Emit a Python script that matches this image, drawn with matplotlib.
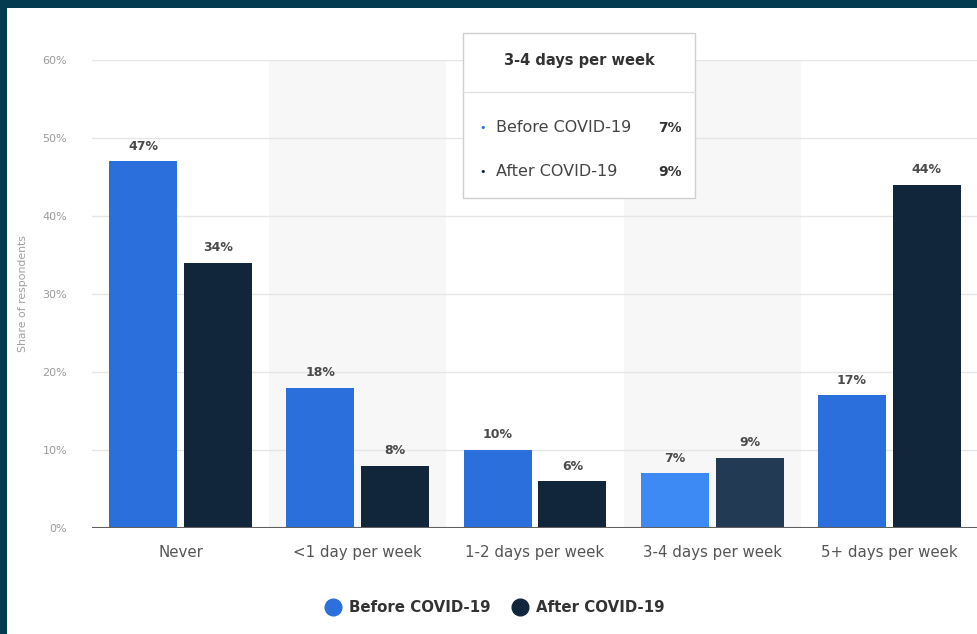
import numpy as np
import matplotlib.pyplot as plt
from matplotlib.patches import Rectangle

plt.rcParams['font.family'] = ['DejaVu Sans']

# data
categories = ['Never', '<1 day per week', '1-2 days per week', '3-4 days per week', '5+ days per week']
before = [47, 18, 10, 7, 17]
after = [34, 8, 6, 9, 44]
series_names = ['Before COVID-19', 'After COVID-19']
yticks = [0, 10, 20, 30, 40, 50, 60]
hover_idx = 3

c_before = '#2a6fdb'
c_after = '#11253b'
c_before_hl = '#3d8af5'
c_after_hl = '#233a55'

fig = plt.figure(figsize=(9.78, 6.34), dpi=100)
fig.patch.set_facecolor('#043b50')
# white panel inside the dark frame
fig.patches.append(Rectangle((7 / 978, 0), 1, 1 - 8 / 634, transform=fig.transFigure,
                             facecolor='white', edgecolor='none', zorder=-10))

ax = fig.add_axes([92 / 978, 1 - 528 / 634, 1 - 92 / 978, (528 - 60) / 634])
ax.set_facecolor('none')

x = np.arange(len(categories))
w = 0.383
off = 0.211

# alternating bands
for i in x:
    if i % 2 == 1:
        ax.axvspan(i - 0.5, i + 0.5, color='#f7f7f7', zorder=0, lw=0)

for v in yticks[1:]:
    ax.axhline(v, color='#e6e6e6', lw=1, zorder=1)
ax.axhline(0, color='#606060', lw=1.5, zorder=3)

cb = [c_before_hl if i == hover_idx else c_before for i in x]
ca = [c_after_hl if i == hover_idx else c_after for i in x]
ax.bar(x - off, before, w, color=cb, zorder=2)
ax.bar(x + off, after, w, color=ca, zorder=2)

for xs, vals in ((x - off, before), (x + off, after)):
    for xi, v in zip(xs, vals):
        ax.text(xi, v + 1.1, f'{v}%', ha='center', va='bottom', fontsize=9,
                fontweight='bold', color='#4a4a4a', zorder=4)

ax.set_xlim(-0.5, 4.5)
ax.set_ylim(0, 60)
ax.set_yticks(yticks)
ax.set_yticklabels([f'{v}%' for v in yticks], fontsize=8, color='#9a9a9a')
ax.set_xticks(x)
ax.set_xticklabels(categories, fontsize=10.8, color='#555555')
ax.tick_params(axis='both', length=0)
ax.tick_params(axis='y', pad=18)
ax.tick_params(axis='x', pad=12)
for s in ax.spines.values():
    s.set_visible(False)
ax.set_ylabel('Share of respondents', fontsize=7.8, color='#a0a0a0', labelpad=10)

# tooltip box
tx0, ty0, tw, th = 463 / 978, 1 - 198 / 634, (695 - 463) / 978, (198 - 33) / 634
fig.patches.append(Rectangle((tx0, ty0), tw, th, transform=fig.transFigure,
                             facecolor='white', edgecolor='#cfcfcf', lw=1, zorder=10))
fig.add_artist(plt.Line2D([tx0, tx0 + tw], [1 - 92 / 634] * 2, color='#e2e2e2', lw=1,
                          transform=fig.transFigure, zorder=11))
fig.text(579 / 978, 1 - 61 / 634, categories[hover_idx], ha='center', va='center',
         fontsize=10.5, fontweight='bold', color='#333333', zorder=12)
rows = [(series_names[0], before[hover_idx], c_before, 128), (series_names[1], after[hover_idx], c_after, 172)]
for name, val, col, yy in rows:
    fig.text(483 / 978, 1 - yy / 634, '•', ha='center', va='center', fontsize=8, color=col, zorder=12)
    fig.text(496 / 978, 1 - yy / 634, name, ha='left', va='center', fontsize=11.5, color='#444444', zorder=12)
    fig.text(682 / 978, 1 - yy / 634, f'{val}%', ha='right', va='center', fontsize=10,
             fontweight='bold', color='#333333', zorder=12)

# legend
for xc, name, col in ((333, series_names[0], c_before), (520, series_names[1], c_after)):
    fig.add_artist(plt.Line2D([xc / 978], [1 - 607 / 634], marker='o', markersize=12,
                              color=col, linestyle='none', transform=fig.transFigure))
    fig.text((xc + 16) / 978, 1 - 607 / 634, name, ha='left', va='center', fontsize=10.8,
             fontweight='bold', color='#333333')

fig.savefig('out.png', dpi=100, facecolor=fig.get_facecolor())
